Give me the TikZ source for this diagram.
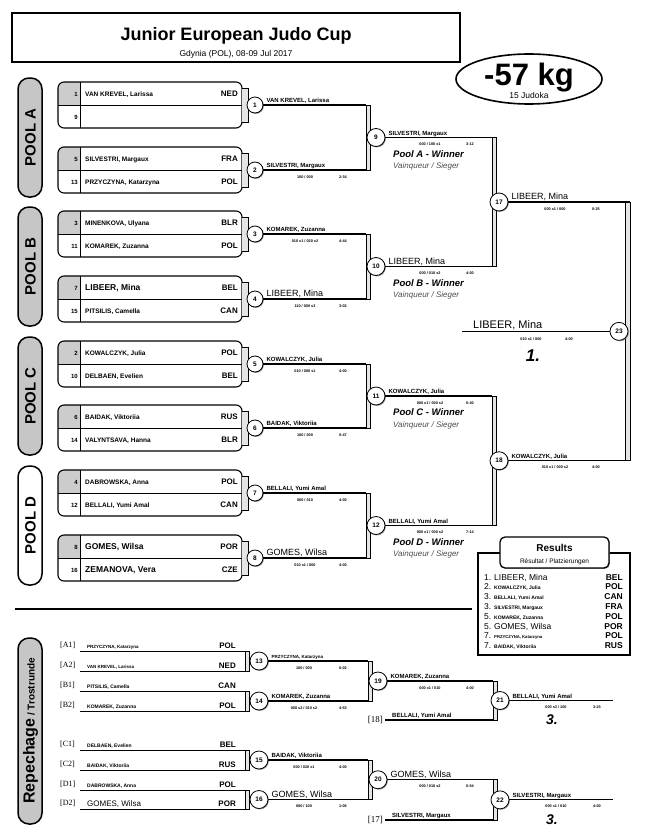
\documentclass[tikz,border=0pt]{standalone}
\usepackage{fontspec}
\setmainfont{Liberation Sans}
\newfontfamily\tagfont{Liberation Serif}
\usetikzlibrary{positioning,calc,shapes.geometric,shadows}

\newcommand{\fs}[1]{\fontsize{#1}{#1}\selectfont}
\newcommand{\bignm}{\fs{9}\mdseries}
\newcommand{\bigbox}{\fs{8.5}\bfseries}
\newcommand{\tinynm}{\fs{4.5}}

\tikzset{
  poolbox/.style={draw, line width=1.1pt, rounded corners=6pt},
  poollabel/.style={draw, line width=1.5pt, rounded corners=11pt},
  matchno/.style={circle, draw, line width=0.8pt, fill=white, inner sep=0pt,
    minimum size=16pt, font=\bfseries\fs{6.5},
    drop shadow={shadow xshift=0.9pt, shadow yshift=-0.9pt, opacity=0.8}},
  joinbar/.style={draw, line width=0.7pt, fill=gray!20},
  winline/.style={line width=1.1pt},
  seednum/.style={anchor=base east, inner sep=0pt, font=\bfseries\fs{6}},
  fighter/.style={anchor=base west, inner sep=0pt, font=\bfseries\fs{6}},
  nation/.style={anchor=base east, inner sep=0pt, font=\bfseries\fs{8}},
  score/.style={anchor=base, inner sep=0pt, font=\bfseries\fs{3.8}},
  winner/.style={anchor=base west, inner sep=0pt, font=\bfseries\itshape\fs{9.5}},
  sieger/.style={anchor=base west, inner sep=0pt, font=\itshape\fs{8}, text=black!70},
  place/.style={inner sep=0pt, font=\bfseries\itshape\fs{14}},
}

\begin{document}
\begin{tikzpicture}[x=1pt, y=-1pt]
\useasboundingbox (0,0) rectangle (647,835);

% title block
\draw[line width=1.8pt] (12,13) rectangle (460,62);
\node[anchor=base, font=\bfseries\fs{18}] (title) at (236,40) {Junior European Judo Cup};
\node[anchor=base, font=\fs{8.5}] (venue) at (236,56) {Gdynia (POL), 08-09 Jul 2017};
\node[ellipse, draw, line width=1.6pt, fill=white, minimum width=146pt, minimum height=50pt] (wclass) at (529,79) {};
\node[anchor=base, font=\bfseries\fs{31}] (kg) at (529,85) {-57 kg};
\node[anchor=base, font=\fs{8.5}] (judoka) at (529,98) {15 Judoka};

% pool labels
\foreach \p/\t/\b/\f in {A/78/197/gray!45, B/207/326/gray!45, C/337/455/gray!45, D/466/585/white}{
  \draw[poollabel, fill=\f] (18,\t) rectangle (42,\b);
  \node[rotate=90, font=\bfseries\fs{15}] (pool\p) at (30.5,{(\t+\b)/2}) {POOL \p};
}

% draw boxes
\foreach \k/\c/\sa/\na/\ca/\sb/\nb/\cb in {
  1/105/1/{VAN KREVEL, Larissa}/NED/9/{}/{},
  2/170/5/{SILVESTRI, Margaux}/FRA/13/{PRZYCZYNA, Katarzyna}/POL,
  3/234/3/{MINENKOVA, Ulyana}/BLR/11/{KOMAREK, Zuzanna}/POL,
  4/299/7/{\bigbox LIBEER, Mina}/BEL/15/{PITSILIS, Camella}/CAN,
  5/364/2/{KOWALCZYK, Julia}/POL/10/{DELBAEN, Evelien}/BEL,
  6/428/6/{BAIDAK, Viktoriia}/RUS/14/{VALYNTSAVA, Hanna}/BLR,
  7/493/4/{DABROWSKA, Anna}/POL/12/{BELLALI, Yumi Amal}/CAN,
  8/558/8/{\bigbox GOMES, Wilsa}/POR/16/{\bigbox ZEMANOVA, Vera}/CZE}{
  \begin{scope}
    \clip[rounded corners=6pt] (58,\c-23) rectangle (242,\c+23);
    \fill[gray!40] (58,\c-23) rectangle (80,\c);
  \end{scope}
  \draw[poolbox] (58,\c-23) rectangle (242,\c+23);
  \draw[line width=0.6pt] (58,\c) -- (242,\c) (80,\c-23) -- (80,\c+23);
  \node[seednum] (sa\k) at (78,\c-9) {\sa};
  \node[seednum] (sb\k) at (78,\c+14) {\sb};
  \node[fighter, font=\bfseries\fs{6.5}] (fa\k) at (85,\c-9) {\na};
  \node[fighter, font=\bfseries\fs{6.5}] (fb\k) at (85,\c+14) {\nb};
  \node[nation] (ca\k) at (238,\c-9) {\ca};
  \node[nation] (cb\k) at (238,\c+14) {\cb};
  \draw[joinbar] (242,\c-17) -- (248,\c-17) -- (248,\c+17) -- (242,\c+17);
  \node[matchno] (m\k) at (255,\c) {\k};
  \coordinate (r\k) at (366,\c);
  \draw[winline] (m\k) -- (r\k);
}

% round 1 results
\foreach \k/\nm/\sc/\tm in {
  1/{VAN KREVEL, Larissa}/{}/{},
  2/{SILVESTRI, Margaux}/{100 / 000}/{2:34},
  3/{KOMAREK, Zuzanna}/{010 x1 / 020 x2}/{4:44},
  4/{\bignm LIBEER, Mina}/{110 / 000 s3}/{3:02},
  5/{KOWALCZYK, Julia}/{010 / 000 s1}/{4:00},
  6/{BAIDAK, Viktoriia}/{100 / 000}/{0:47},
  7/{BELLALI, Yumi Amal}/{000 / 010}/{4:00},
  8/{\bignm GOMES, Wilsa}/{010 x1 / 000}/{4:00}}{
  \node[fighter] (w\k) at ([xshift=3pt, yshift=2.5pt]m\k.east) {\nm};
  \node[score] (sc\k) at ([xshift=50pt, yshift=-8pt]m\k.center) {\sc};
  \node[score] (tm\k) at ([xshift=88pt, yshift=-8pt]m\k.center) {\tm};
}

% pool finals
\foreach \k/\a/\b/\nm/\sc/\tm/\pl in {
  9/1/2/{SILVESTRI, Margaux}/{000 / 100 x1}/{3:12}/A,
  10/3/4/{\bignm LIBEER, Mina}/{000 / 010 x2}/{4:00}/B,
  11/5/6/{KOWALCZYK, Julia}/{000 x1 / 000 s2}/{6:40}/C,
  12/7/8/{BELLALI, Yumi Amal}/{000 x1 / 000 s2}/{7:14}/D}{
  \draw[joinbar] (r\a) rectangle ([xshift=4pt]r\b);
  \node[matchno, minimum size=18pt] (m\k) at ($(r\a)!0.5!(r\b)+(10,0)$) {\k};
  \path (m\k) ++(116,0) coordinate (r\k);
  \draw[winline] (m\k) -- (r\k);
  \node[fighter] (w\k) at ([xshift=3pt, yshift=2.5pt]m\k.east) {\nm};
  \node[score] (sc\k) at ([xshift=54pt, yshift=-8pt]m\k.center) {\sc};
  \node[score] (tm\k) at ([xshift=94pt, yshift=-8pt]m\k.center) {\tm};
  \node[winner] (pw\k) at ([xshift=17pt, yshift=-19.5pt]m\k.center) {Pool \pl\ - Winner};
  \node[sieger] (vs\k) at ([xshift=17pt, yshift=-31pt]m\k.center) {Vainqueur / Sieger};
}

% semi finals
\foreach \k/\a/\b/\nm/\sc/\tm in {
  17/9/10/{\bignm LIBEER, Mina}/{000 x1 / 000}/{0:25},
  18/11/12/{KOWALCZYK, Julia}/{010 x1 / 000 s2}/{4:00}}{
  \draw[joinbar] (r\a) rectangle ([xshift=4pt]r\b);
  \node[matchno, minimum size=18pt] (m\k) at ($(r\a)!0.5!(r\b)+(7,0)$) {\k};
  \path (m\k) ++(131,0) coordinate (r\k);
  \draw[winline] (m\k) -- (r\k);
  \node[fighter] (w\k) at ([xshift=3pt, yshift=2.5pt]m\k.east) {\nm};
  \node[score] (sc\k) at ([xshift=56pt, yshift=-8pt]m\k.center) {\sc};
  \node[score] (tm\k) at ([xshift=97pt, yshift=-8pt]m\k.center) {\tm};
}

% final
\draw[joinbar] ([xshift=-5pt]r17) rectangle (r18);
\node[matchno, minimum size=18pt] (m23) at ($(r17)!0.5!(r18)+(-11,0)$) {23};
\path (m23) ++(-157,0) coordinate (f23);
\draw[winline] (m23) -- (f23);
\node[anchor=base west, inner sep=0pt, font=\fs{11}] (w23) at (473,328) {LIBEER, Mina};
\node[score] (sc23) at (531,340) {010 x1 / 000};
\node[score] (tm23) at (569,340) {4:00};
\node[place, font=\bfseries\itshape\fs{17}] (gold) at (533,356) {1.};

% results
\draw[line width=1.6pt] (478,553) rectangle (630,655);
\node[draw, line width=1.3pt, rounded corners=5pt, fill=white, minimum width=109pt, minimum height=31pt,
  drop shadow={shadow xshift=0.9pt, shadow yshift=-0.9pt, opacity=0.8}] (reshead) at (554.5,552.5) {};
\node[anchor=base, font=\bfseries\fs{10}] (restitle) at (554.5,551) {Results};
\node[anchor=base, font=\fs{6.5}] (ressub) at (554.5,563) {R\'esultat / Platzierungen};
\foreach \r/\nm/\cn [count=\i] in {
  1/{\fs{8.5}LIBEER, Mina}/BEL,
  2/{\bfseries\fs{5}KOWALCZYK, Julia}/POL,
  3/{\bfseries\fs{5}BELLALI, Yumi Amal}/CAN,
  3/{\bfseries\fs{5}SILVESTRI, Margaux}/FRA,
  5/{\bfseries\fs{5}KOMAREK, Zuzanna}/POL,
  5/{\fs{8.5}GOMES, Wilsa}/POR,
  7/{\bfseries\fs{4.2}PRZYCZYNA, Katarzyna}/POL,
  7/{\bfseries\fs{5}BAIDAK, Viktoriia}/RUS}{
  \node[anchor=base west, inner sep=0pt, font=\fs{8.5}] (rk\i) at (484,{580+9.8*(\i-1)}) {\r.};
  \node[anchor=base west, inner sep=0pt] (rn\i) at (494,{580+9.8*(\i-1)}) {\nm};
  \node[nation, font=\bfseries\fs{8.5}] (rc\i) at (623,{580+9.8*(\i-1)}) {\cn};
}

% repechage
\draw[line width=1.6pt] (15,609) -- (472,609);
\draw[poollabel, fill=gray!45] (18,638) rectangle (42,824);
\node[rotate=90, font=\bfseries] (repe) at (30.5,731) {\fs{16}Repechage\fs{10} / Trostrunde};

\foreach \k/\L/\tg/\nm/\cn in {
  1/651/A1/{\tinynm PRZYCZYNA, Katarzyna}/POL,
  2/671/A2/{\tinynm VAN KREVEL, Larissa}/NED,
  3/691/B1/{PITSILIS, Camella}/CAN,
  4/711/B2/{KOMAREK, Zuzanna}/POL,
  5/750/C1/{DELBAEN, Evelien}/BEL,
  6/770/C2/{BAIDAK, Viktoriia}/RUS,
  7/790/D1/{DABROWSKA, Anna}/POL,
  8/809/D2/{\fs{8}\mdseries GOMES, Wilsa}/POR}{
  \coordinate (p\k) at (80,\L);
  \coordinate (q\k) at (245,\L);
  \draw[line width=0.9pt] (p\k) -- (q\k);
  \node[anchor=base west, inner sep=0pt, font=\tagfont\fs{8}] (tag\k) at (60,\L-4) {[\tg]};
  \node[fighter, font=\bfseries\fs{5}] (rf\k) at (87,\L-3) {\nm};
  \node[nation] (rcn\k) at (236,\L-3) {\cn};
}

\foreach \k/\a/\b/\nm/\sc/\tm in {
  13/1/2/{\tinynm PRZYCZYNA, Katarzyna}/{100 / 000}/{0:02},
  14/3/4/{KOMAREK, Zuzanna}/{000 s2 / 010 s2}/{4:53},
  15/5/6/{BAIDAK, Viktoriia}/{000 / 020 x1}/{4:00},
  16/7/8/{\bignm GOMES, Wilsa}/{000 / 100}/{1:06}}{
  \draw[joinbar] (q\a) rectangle ([xshift=4pt]q\b);
  \node[matchno, minimum size=18pt] (m\k) at ($(q\a)!0.5!(q\b)+(14,0)$) {\k};
  \path (m\k) ++(109,0) coordinate (s\k);
  \draw[winline] (m\k) -- (s\k);
  \node[fighter] (w\k) at ([xshift=3pt, yshift=2.5pt]m\k.east) {\nm};
  \node[score] (sc\k) at ([xshift=45pt, yshift=-8pt]m\k.center) {\sc};
  \node[score] (tm\k) at ([xshift=84pt, yshift=-8pt]m\k.center) {\tm};
}

\foreach \k/\a/\b/\nm/\sc/\tm in {
  19/13/14/{KOMAREK, Zuzanna}/{000 x1 / 010}/{4:00},
  20/15/16/{\bignm GOMES, Wilsa}/{000 / 010 s2}/{6:54}}{
  \draw[joinbar] (s\a) rectangle ([xshift=4pt]s\b);
  \node[matchno, minimum size=18pt] (m\k) at ($(s\a)!0.5!(s\b)+(10,0)$) {\k};
  \path (m\k) ++(115,0) coordinate (s\k);
  \draw[winline] (m\k) -- (s\k);
  \node[fighter] (w\k) at ([xshift=3pt, yshift=2.5pt]m\k.east) {\nm};
  \node[score] (sc\k) at ([xshift=52pt, yshift=-8pt]m\k.center) {\sc};
  \node[score] (tm\k) at ([xshift=92pt, yshift=-8pt]m\k.center) {\tm};
}

% bronze
\foreach \k/\tg/\y/\nm in {21/18/720/{BELLALI, Yumi Amal}, 22/17/820/{SILVESTRI, Margaux}}{
  \coordinate (t\tg) at (385,\y);
  \coordinate (u\tg) at (493,\y);
  \draw[winline] (t\tg) -- (u\tg);
  \node[anchor=base east, inner sep=0pt, font=\tagfont\fs{9}] (tag\tg) at (383,\y+2) {[\tg]};
  \node[fighter] (lw\tg) at (392,\y-3) {\nm};
}
\foreach \k/\a/\b/\nm/\sc/\tm in {
  21/19/18/{BELLALI, Yumi Amal}/{000 s3 / 100}/{3:23},
  22/20/17/{SILVESTRI, Margaux}/{000 x1 / 010}/{4:00}}{
  \draw[joinbar] (s\a) rectangle ([xshift=4pt]u\b);
  \node[matchno, minimum size=18pt] (m\k) at ($(s\a)!0.5!(u\b)+(7,0)$) {\k};
  \path (m\k) ++(113,0) coordinate (s\k);
  \draw[winline] (m\k) -- (s\k);
  \node[fighter] (w\k) at ([xshift=3pt, yshift=2.5pt]m\k.east) {\nm};
  \node[score] (sc\k) at ([xshift=56pt, yshift=-8pt]m\k.center) {\sc};
  \node[score] (tm\k) at ([xshift=97pt, yshift=-8pt]m\k.center) {\tm};
  \node[place] (br\k) at ([xshift=52pt, yshift=-19.5pt]m\k.center) {3.};
}
\end{tikzpicture}
\end{document}
